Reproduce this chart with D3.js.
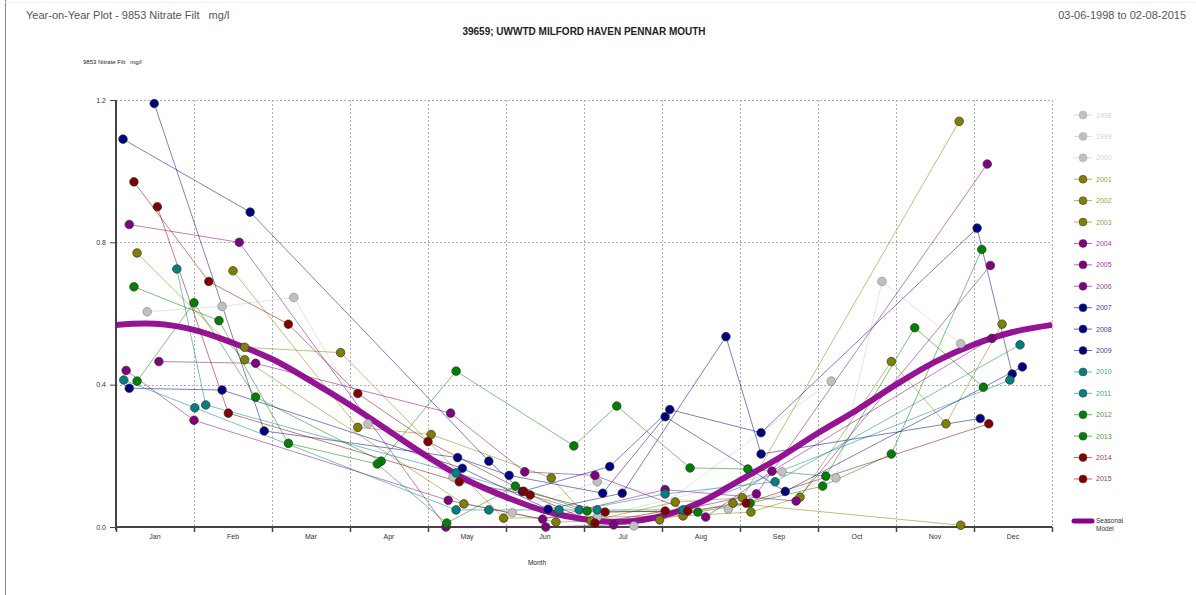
<!DOCTYPE html>
<html>
<head>
<meta charset="utf-8">
<script src="https://cdn.jsdelivr.net/npm/d3@7/dist/d3.min.js"></script>
<style>
  html, body { margin: 0; padding: 0; background: #fff; }
  svg { display: block; font-family: "Liberation Sans", Arial, sans-serif; }
</style>
</head>
<body>
<svg id="chart" width="1196" height="595"></svg>
<script>
// Month labels along the x axis (positions are fractional months, 0 = 1 Jan)
const monthLabels = ["Jan","Feb","Mar","Apr","May","Jun","Jul","Aug","Sep","Oct","Nov","Dec"];
const yTicks = [0.0, 0.4, 0.8, 1.2];

// Sample years shown in the legend, with their colours
const years = ["1998","1999","2000","2001","2002","2003","2004","2005","2006",
               "2007","2008","2009","2010","2011","2012","2013","2014","2015"];
const yearColors = ["#c0c0c0","#c0c0c0","#c0c0c0","#808000","#808000","#808000",
                    "#800080","#800080","#800080","#000080","#000080","#000080",
                    "#008080","#008080","#008000","#008000","#800000","#800000"];

// Samples per year: [month position, nitrate mg/l]
const s1998 = [[5.08,0.04],[6.17,0.127],[7.85,0.05],[9.23,0.138],[9.82,0.69],[10.83,0.515]];
const s1999 = [[0.40,0.605],[1.36,0.62],[2.28,0.645],[3.23,0.29],[4.32,0.14],[6.17,0.028],[8.54,0.155]];
const s2000 = [[6.64,0.003],[9.17,0.41]];
const s2001 = [[0.27,0.77],[1.65,0.47],[4.46,0.065],[5.64,0.014],[6.97,0.02],[7.91,0.067],[10.83,0.005]];
const s2002 = [[1.50,0.72],[3.10,0.28],[4.04,0.26],[5.58,0.138],[6.09,0.017],[7.17,0.07],[8.03,0.082],[10.81,1.14]];
const s2003 = [[1.65,0.505],[2.88,0.49],[4.97,0.025],[7.27,0.031],[8.14,0.042],[8.77,0.084],[9.94,0.465],[10.64,0.29],[11.36,0.57]];
const s2004 = [[0.17,0.85],[1.58,0.80],[4.23,0.0],[5.51,0.0],[6.38,0.006],[8.21,0.093],[11.17,1.02]];
const s2005 = [[0.55,0.465],[1.79,0.46],[4.29,0.32],[5.24,0.155],[6.14,0.145],[7.56,0.028],[8.41,0.157],[11.23,0.53]];
const s2006 = [[0.13,0.44],[1.00,0.30],[4.26,0.075],[5.47,0.022],[7.04,0.105],[8.72,0.073],[11.21,0.735]];
const s2007 = [[0.09,1.09],[1.72,0.885],[4.78,0.185],[5.21,0.10],[6.33,0.17],[7.10,0.33],[8.27,0.265],[11.04,0.84],[11.49,0.43]];
const s2008 = [[0.49,1.19],[1.90,0.27],[4.38,0.195],[5.04,0.145],[6.24,0.095],[7.04,0.31],[8.58,0.10],[11.62,0.45]];
const s2009 = [[0.17,0.39],[1.36,0.385],[4.44,0.165],[5.54,0.05],[6.49,0.095],[7.82,0.535],[8.27,0.205],[11.08,0.305]];
const s2010 = [[0.10,0.413],[1.01,0.335],[4.36,0.048],[4.78,0.048],[5.68,0.048],[6.17,0.048],[7.27,0.048],[11.46,0.413]];
const s2011 = [[0.78,0.725],[1.15,0.343],[4.36,0.152],[5.94,0.048],[7.04,0.093],[8.45,0.127],[11.59,0.512]];
const s2012 = [[0.27,0.41],[1.00,0.63],[1.79,0.365],[3.40,0.185],[4.36,0.438],[5.87,0.228],[6.42,0.34],[7.36,0.166],[8.10,0.163],[9.10,0.143],[10.24,0.56],[11.12,0.393]];
const s2013 = [[0.23,0.675],[1.32,0.58],[2.21,0.235],[3.35,0.177],[4.24,0.011],[5.12,0.115],[6.04,0.045],[7.46,0.042],[8.13,0.067],[9.06,0.115],[9.94,0.205],[11.10,0.78]];
const s2014 = [[0.23,0.97],[1.19,0.69],[2.21,0.57],[3.10,0.375],[4.00,0.24],[5.23,0.10],[6.27,0.042],[7.33,0.045],[8.08,0.067],[11.19,0.29]];
const s2015 = [[0.53,0.90],[1.44,0.32],[4.40,0.127],[5.31,0.09],[6.14,0.011],[7.04,0.045]];

// Seasonal model, sampled every half month from 1 Jan to 31 Dec
const modelMonths = [0,0.5,1,1.5,2,2.5,3,3.5,4,4.5,5,5.5,6,6.5,7,7.5,8,8.5,9,9.5,10,10.5,11,11.5,12];
const modelValues = [0.568,0.571,0.554,0.517,0.472,0.410,0.343,0.270,0.197,0.132,0.084,0.045,
                     0.022,0.015,0.031,0.070,0.132,0.194,0.264,0.329,0.400,0.464,0.513,0.548,0.568];

const seriesData = [s1998,s1999,s2000,s2001,s2002,s2003,s2004,s2005,s2006,
                    s2007,s2008,s2009,s2010,s2011,s2012,s2013,s2014,s2015];

const svg = d3.select("#chart");
const W = 1196, H = 595;
const plot = { left: 116, right: 1052, top: 100, bottom: 527 };

const x = d3.scaleLinear().domain([0, 12]).range([plot.left, plot.right]);
const y = d3.scaleLinear().domain([0, 1.2]).range([plot.bottom, plot.top]);

// Page frame
svg.append("line").attr("x1", 5.5).attr("x2", 5.5).attr("y1", 0).attr("y2", H)
  .attr("stroke", "#888").attr("stroke-width", 1);
svg.append("line").attr("x1", 5).attr("x2", W).attr("y1", 2.5).attr("y2", 2.5)
  .attr("stroke", "#f0f0f0").attr("stroke-width", 1);

// Header texts
svg.append("text").attr("x", 26).attr("y", 19).attr("font-size", 11).attr("fill", "#555")
  .attr("xml:space", "preserve").text("Year-on-Year Plot - 9853 Nitrate Filt   mg/l");
svg.append("text").attr("x", 1186).attr("y", 19).attr("font-size", 11).attr("fill", "#555")
  .attr("text-anchor", "end").text("03-06-1998 to 02-08-2015");
svg.append("text").attr("x", 584).attr("y", 35).attr("font-size", 10).attr("font-weight", "bold")
  .attr("fill", "#222").attr("text-anchor", "middle").text("39659; UWWTD MILFORD HAVEN PENNAR MOUTH");
svg.append("text").attr("x", 83).attr("y", 64).attr("font-size", 6).attr("fill", "#222")
  .attr("xml:space", "preserve").text("9853 Nitrate Filt   mg/l");
svg.append("text").attr("x", 537).attr("y", 565).attr("font-size", 6.5).attr("fill", "#222")
  .attr("text-anchor", "middle").text("Month");

// Grid: dotted month boundaries and value lines
const grid = svg.append("g").attr("stroke", "#b0b0b0").attr("stroke-width", 1)
  .attr("stroke-dasharray", "2,2").attr("fill", "none");
grid.selectAll("line.v").data(d3.range(1, 13)).join("line")
  .attr("x1", d => Math.round(x(d)) + 0.5).attr("x2", d => Math.round(x(d)) + 0.5)
  .attr("y1", plot.top).attr("y2", plot.bottom);
grid.selectAll("line.h").data(yTicks.filter(d => d > 0)).join("line")
  .attr("x1", plot.left).attr("x2", plot.right)
  .attr("y1", d => Math.round(y(d)) + 0.5).attr("y2", d => Math.round(y(d)) + 0.5);

// Axes
const yAxis = d3.axisLeft(y).tickValues(yTicks).tickFormat(d3.format(".1f")).tickSize(6).tickPadding(4);
const gy = svg.append("g").attr("transform", `translate(${plot.left},0)`).call(yAxis);
gy.select(".domain").attr("stroke", "#444").attr("stroke-width", 2)
  .attr("d", `M0,${plot.top}V${plot.bottom + 3}`);
gy.selectAll(".tick line").attr("stroke", "#444");
gy.selectAll(".tick text").attr("font-size", 7).attr("fill", "#333")
  .attr("font-family", "Liberation Sans, Arial, sans-serif");

const xAxis = d3.axisBottom(x).tickValues(d3.range(0, 13)).tickFormat("").tickSize(5);
const gx = svg.append("g").attr("transform", `translate(0,${plot.bottom})`).call(xAxis);
gx.select(".domain").attr("stroke", "#444").attr("stroke-width", 2)
  .attr("d", `M${plot.left},0H${plot.right}`);
gx.selectAll(".tick line").attr("stroke", "#444").attr("stroke-width", 1.5);

svg.append("g").selectAll("text").data(monthLabels).join("text")
  .attr("x", (d, i) => x(i + 0.5)).attr("y", plot.bottom + 12)
  .attr("text-anchor", "middle").attr("font-size", 7).attr("fill", "#333").text(d => d);

// Year lines
const line = d3.line().x(d => x(d[0])).y(d => y(d[1]));
svg.append("g").attr("fill", "none").selectAll("path").data(seriesData).join("path")
  .attr("d", line)
  .attr("stroke", (d, i) => yearColors[i])
  .attr("stroke-opacity", (d, i) => i < 3 ? 0.45 : 0.5)
  .attr("stroke-width", 1);

// Seasonal model curve
const modelPts = modelMonths.map((m, i) => [m, modelValues[i]]);
svg.append("path").datum(modelPts)
  .attr("d", d3.line().x(d => x(d[0])).y(d => y(d[1])).curve(d3.curveCatmullRom))
  .attr("fill", "none").attr("stroke", "#8b008b").attr("stroke-width", 6).attr("stroke-opacity", 0.92);

// Year markers
const markers = svg.append("g");
seriesData.forEach((pts, i) => {
  markers.selectAll(null).data(pts).join("circle")
    .attr("cx", d => x(d[0])).attr("cy", d => y(d[1])).attr("r", 4.3)
    .attr("fill", yearColors[i])
    .attr("stroke", i < 3 ? "#888" : "#333").attr("stroke-width", 0.7);
});

// Legend
const textColors = ["#d2d2d2","#d2d2d2","#d2d2d2","#a0a040","#a0a040","#a0a040",
                    "#a040a0","#a040a0","#a040a0","#4040a0","#4040a0","#4040a0",
                    "#40a0a0","#40a0a0","#40a040","#40a040","#a04040","#a04040"];
const legend = svg.append("g");
const legendY = i => 115 + i * 21.41;
years.forEach((yr, i) => {
  const g = legend.append("g").attr("transform", `translate(0,${legendY(i)})`);
  g.append("line").attr("x1", 1074).attr("x2", 1092).attr("y1", 0).attr("y2", 0)
    .attr("stroke", yearColors[i]).attr("stroke-opacity", 0.6).attr("stroke-width", 1);
  g.append("circle").attr("cx", 1083).attr("cy", 0).attr("r", 4)
    .attr("fill", yearColors[i]).attr("stroke", i < 3 ? "#aaa" : "#444").attr("stroke-width", 0.5);
  g.append("text").attr("x", 1096).attr("y", 2.5).attr("font-size", 7)
    .attr("fill", textColors[i]).text(yr);
});
legend.append("line").attr("x1", 1074).attr("x2", 1092).attr("y1", 521).attr("y2", 521)
  .attr("stroke", "#8b008b").attr("stroke-width", 5).attr("stroke-linecap", "round");
legend.append("text").attr("x", 1096).attr("y", 523).attr("font-size", 6.5).attr("fill", "#333").text("Seasonal");
legend.append("text").attr("x", 1096).attr("y", 531).attr("font-size", 6.5).attr("fill", "#333").text("Model");
</script>
</body>
</html>
